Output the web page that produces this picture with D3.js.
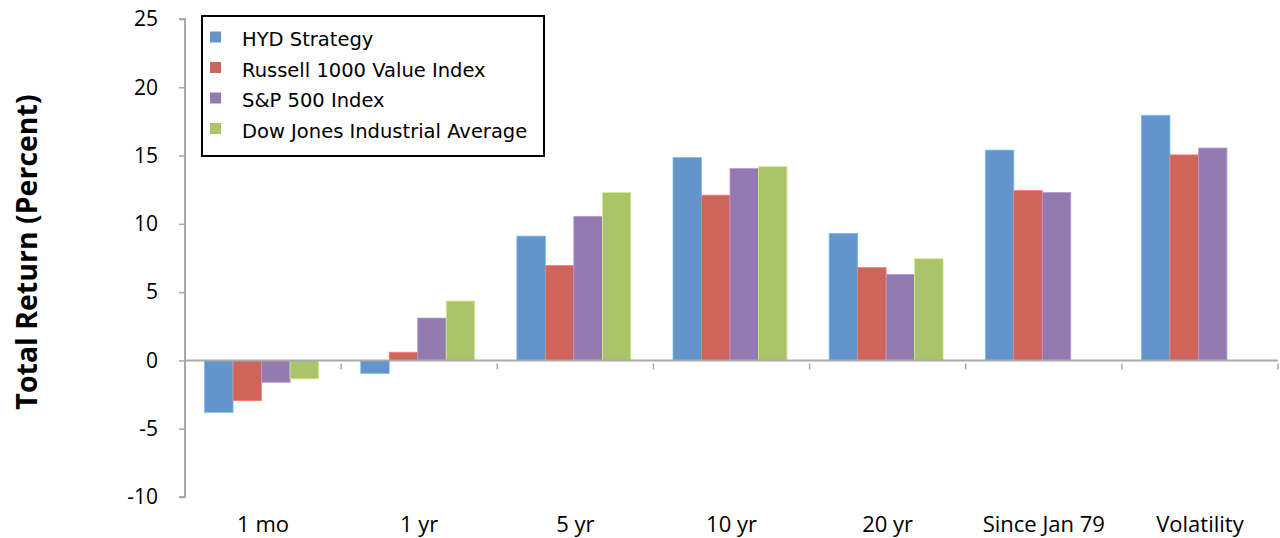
<!DOCTYPE html>
<html>
<head>
<meta charset="utf-8">
<script src="https://cdn.jsdelivr.net/npm/d3@7"></script>
<style>
  html, body { margin: 0; padding: 0; background: #fff; }
  svg { display: block; }
</style>
</head>
<body>
<svg id="chart" width="1280" height="538"></svg>
<script>
// Return periods on the horizontal axis
const categories = ["1 mo", "1 yr", "5 yr", "10 yr", "20 yr", "Since Jan 79", "Volatility"];

// Series names and colours
const seriesNames = ["HYD Strategy", "Russell 1000 Value Index", "S&P 500 Index", "Dow Jones Industrial Average"];
const seriesColors = ["#6395ca", "#cd655d", "#937ab1", "#abc46a"];

// Total return (percent) per series; null where a series has no value
const hydStrategy   = [-3.8, -0.95, 9.1, 14.85, 9.3, 15.4, 17.95];
const russell1000   = [-2.95, 0.6, 6.95, 12.1, 6.8, 12.45, 15.05];
const sp500         = [-1.6, 3.1, 10.55, 14.05, 6.3, 12.3, 15.55];
const dowJones      = [-1.35, 4.35, 12.3, 14.2, 7.45, null, null];

const yTicks = [-10, -5, 0, 5, 10, 15, 20, 25];

const seriesValues = [hydStrategy, russell1000, sp500, dowJones];

const svg = d3.select("#chart");
const axisFont = "'Open Sans', 'DejaVu Sans', sans-serif";
const legendFont = "'DejaVu Sans', sans-serif";

const plotLeft = 185, plotRight = 1278, plotTop = 19, plotBottom = 497;

const x = d3.scaleBand().domain(categories).range([plotLeft, plotRight]).paddingInner(0).paddingOuter(0);
const inner = d3.scaleBand().domain(d3.range(seriesNames.length))
  .range([0, x.bandwidth()]).paddingInner(0).paddingOuter(0.74);
const y = d3.scaleLinear().domain([-10, 25]).range([plotBottom, plotTop]);

// Bars
categories.forEach((cat, ci) => {
  seriesValues.forEach((vals, si) => {
    const v = vals[ci];
    if (v == null) return;
    svg.append("rect")
      .attr("x", x(cat) + inner(si) - 1.5)
      .attr("y", y(Math.max(0, v)))
      .attr("width", inner.bandwidth())
      .attr("height", Math.abs(y(v) - y(0)))
      .attr("fill", seriesColors[si])
      .attr("stroke", d3.color(seriesColors[si]).brighter(0.6))
      .attr("stroke-width", 0.8);
  });
});

const axisColor = "#a9a9a9";

// Vertical axis
const yAxis = svg.append("g").attr("transform", `translate(${plotLeft},0)`)
  .call(d3.axisLeft(y).tickValues(yTicks).tickSize(6).tickPadding(21).tickFormat(d => String(d)));
yAxis.select(".domain").attr("stroke", axisColor).attr("stroke-width", 2)
  .attr("d", `M-6,${plotTop}H0V${plotBottom}H-6`);
yAxis.selectAll(".tick line").attr("stroke", axisColor).attr("stroke-width", 1.5);
yAxis.selectAll(".tick text").attr("fill", "#000").attr("font-family", axisFont).attr("font-size", 21);

// Horizontal axis along zero
const xAxis = svg.append("g").attr("transform", `translate(0,${y(0)})`)
  .call(d3.axisBottom(x).tickSize(0).tickFormat(""));
xAxis.select(".domain").attr("stroke", axisColor).attr("stroke-width", 2)
  .attr("d", `M${plotLeft},0H${plotRight}`);
xAxis.selectAll(".tick").remove();

// Category boundary tick marks below the zero line
const bounds = categories.slice(1).map(c => x(c)).concat([plotRight]);
svg.append("g").selectAll("line").data(bounds).join("line")
  .attr("x1", d => d).attr("x2", d => d)
  .attr("y1", y(0) + 3).attr("y2", y(0) + 9)
  .attr("stroke", axisColor).attr("stroke-width", 1.5);

// Category labels at the bottom
svg.append("g").selectAll("text").data(categories).join("text")
  .attr("x", d => x(d) + x.bandwidth() / 2)
  .attr("y", 532)
  .attr("text-anchor", "middle")
  .attr("font-family", axisFont).attr("font-size", 22)
  .attr("fill", "#000")
  .text(d => d);

// Y axis title
svg.append("text")
  .attr("transform", "translate(37,252) rotate(-90)")
  .attr("text-anchor", "middle")
  .attr("font-family", axisFont).attr("font-size", 28.5).attr("font-weight", "bold")
  .attr("fill", "#000")
  .text("Total Return (Percent)");

// Legend
const legend = svg.append("g");
legend.append("rect")
  .attr("x", 202).attr("y", 16).attr("width", 342).attr("height", 140)
  .attr("fill", "#fff").attr("stroke", "#000").attr("stroke-width", 2);
seriesNames.forEach((name, i) => {
  const cy = 38 + i * 30.5;
  legend.append("rect")
    .attr("x", 210).attr("y", cy - 6.5).attr("width", 11).attr("height", 11)
    .attr("fill", seriesColors[i]);
  legend.append("text")
    .attr("x", 242).attr("y", cy + 1).attr("dy", "0.36em")
    .attr("font-family", legendFont).attr("font-size", 19.5).attr("fill", "#000")
    .text(name);
});
</script>
</body>
</html>
